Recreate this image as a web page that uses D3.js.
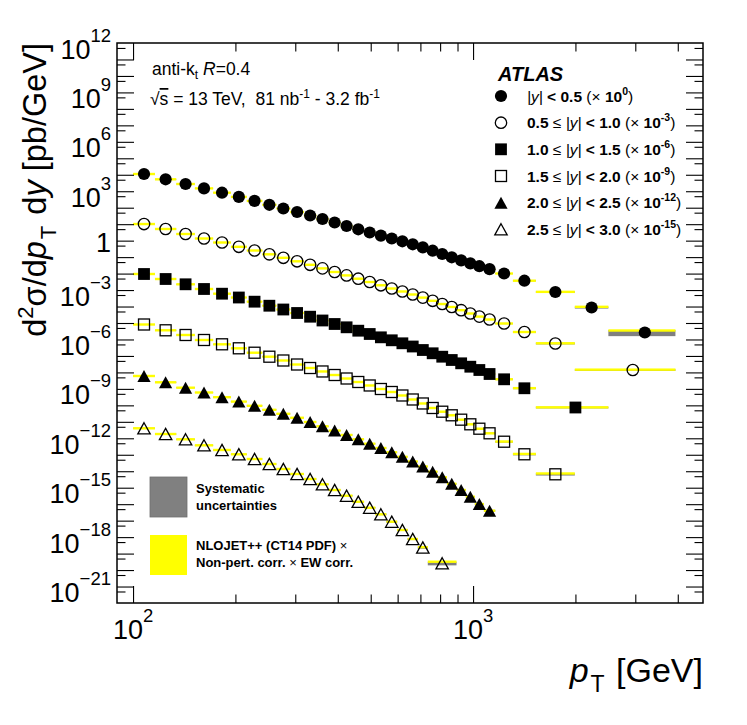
<!DOCTYPE html>
<html><head><meta charset="utf-8">
<script src="https://cdn.jsdelivr.net/npm/d3@7"></script>
<style>
body{margin:0;background:#fff}
svg{font-family:"Liberation Sans",Arial,Helvetica,sans-serif}
</style>
</head><body>
<svg id="c" width="747" height="725"></svg>
<script>
// ---------------- DATA ----------------
const ptEdges = [100,116,134,152,172,194,216,240,264,290,318,346,376,408,442,478,516,556,598,642,688,736,786,838,894,952,1012,1076,1162,1310,1530,1992,2500,3937];

const yLow  = [null, 0.5, 1.0, 1.5, 2.0, 2.5];
const yHigh = [0.5, 1.0, 1.5, 2.0, 2.5, 3.0];
const scaleExp = [0, -3, -6, -9, -12, -15];
const markerTypes = ["fullCircle","openCircle","fullSquare","openSquare","fullTriangle","openTriangle"];

// bin edges used by each rapidity slice (last bins merged at high pT)
const edges_y0 = ptEdges;
const edges_y1 = [...ptEdges.slice(0,32), 3937];
const edges_y2 = [...ptEdges.slice(0,31), 2500];
const edges_y3 = ptEdges.slice(0,32);
const edges_y4 = ptEdges.slice(0,29);
const edges_y5 = [...ptEdges.slice(0,22), 894];

// mean pT of last (wide) bin where it differs visibly from the bin centre
const lastPointPt = [3200, 2950, 2000, null, null, null];

// d2sigma/dpT dy [pb/GeV] (unscaled)
const xsec_y0 = [1.11e4,5.30e3,2.75e3,1.49e3,815,453,259,150,89.5,54.9,33.6,20.6,12.6,7.75,4.89,3.12,2.03,1.35,0.913,0.600,0.389,0.245,0.155,0.0975,0.0632,0.0416,0.0281,0.0185,0.0101,3.7e-3,7.62e-4,8.73e-5,2.65e-6];
const xsec_y1 = [1.02e4,5.10e3,2.53e3,1.35e3,772,423,252,148,90.9,55.7,34.2,20.7,12.5,7.77,4.89,3.09,1.95,1.24,0.818,0.538,0.348,0.223,0.142,0.0937,0.0599,0.0377,0.0245,0.0163,9.32e-3,2.84e-3,5.69e-4,1.40e-5];
const xsec_y2 = [9.44e3,4.69e3,2.24e3,1.16e3,601,353,197,112,66.0,40.5,24.1,14.2,8.70,5.48,3.41,2.15,1.35,0.891,0.586,0.374,0.229,0.145,0.0899,0.0567,0.0357,0.0222,0.0140,8.01e-3,3.82e-3,1.09e-3,7.41e-5];
const xsec_y3 = [8.11e3,3.61e3,1.87e3,929,509,291,157,89.9,52.9,30.2,18.5,11.4,6.96,4.27,2.62,1.61,0.984,0.647,0.397,0.227,0.130,0.0691,0.0412,0.0249,0.0135,7.07e-3,3.82e-3,2.01e-3,6.21e-4,1.07e-4,6.52e-6];
const xsec_y4 = [6.06e3,2.51e3,1.18e3,603,313,169,94.0,53.7,30.7,17.6,9.76,5.35,2.93,1.59,0.869,0.470,0.257,0.141,0.0752,0.0390,0.0194,9.37e-3,4.28e-3,1.73e-3,7.26e-4,2.84e-4,1.02e-4,4.02e-5];
const xsec_y5 = [4.04e3,1.82e3,869,375,195,107,55.3,27.5,13.7,6.80,3.38,1.61,0.726,0.327,0.141,0.0611,0.0243,8.64e-3,2.71e-3,7.69e-4,2.34e-4,2.57e-5];

// relative systematic uncertainty [%]
const sys_y0 = [5,5,4,4,4,4,4,4,4,4,4,4,4,4,4,4,4,4,4,4,4,5,5,5,5,5,6,6,7,8,10,14,40];
const sys_y1 = [5,5,4,4,4,4,4,4,4,4,4,4,4,4,4,4,4,4,4,4,5,5,5,5,5,6,6,7,8,10,12,12];
const sys_y2 = [5,5,4,4,4,4,4,4,4,4,4,4,4,4,4,4,4,4,5,5,5,5,5,6,6,7,7,8,10,12,12];
const sys_y3 = [6,6,5,5,5,5,5,5,5,5,5,5,5,5,5,6,6,6,6,6,7,7,8,8,9,9,10,10,12,14,16];
const sys_y4 = [7,7,6,6,6,6,6,6,6,6,6,6,6,7,7,7,7,8,8,8,9,9,10,10,11,11,12,12];
const sys_y5 = [8,8,7,7,7,7,7,7,7,8,8,8,9,9,10,10,11,12,13,14,16,25];

// NLOJET++ prediction / data
const nlo_y0 = [1,1,1,1,1,1,1,1,1,1,1,1,1,1,1,1,1,1,1,1,1,1,1,1,1,1,1,1,1,1,1.02,1.1,1.32];
const nlo_y1 = [1,1,1,1,1,1,1,1,1,1,1,1,1,1,1,1,1,1,1,1,1,1,1,1,1,1,1,1,1,1,1.03,1.05];
const nlo_y2 = [1,1,1,1,1,1,1,1,1,1,1,1,1,1,1,1,1,1,1,1,1,1,1,1,1,1,1,1,1,1.02,1.02];
const nlo_y3 = [1,1,1,1,1,1,1,1,1,1,1,1,1,1,1,1,1,1,1,1,1,1,1,1,1,1,1,1,1.02,1.05,1.12];
const nlo_y4 = [1,1,1,1,1,1,1,1,1,1,1,1,1,1,1,1,1,1,1,1,1,1,1,1,1,1,1,1];
const nlo_y5 = [1,1,1,1,1,1,1,1,1,1,1,1,1,1,1,1,1,1,1,1,1.05,1.25];

const yTickExps = [12,9,6,3,0,-3,-6,-9,-12,-15,-18,-21];
const xTickExps = [2,3];

// ---------------- CHART ----------------
const svg = d3.select("#c");
const F = {l:117, r:703, t:43, b:603};
const x = d3.scaleLog().domain([89.7, 4745]).range([F.l, F.r]);
const y = d3.scaleLog().domain([1e-22, 1e12]).range([F.b, F.t]);

const edgesAll = [edges_y0,edges_y1,edges_y2,edges_y3,edges_y4,edges_y5];
const xsecAll  = [xsec_y0,xsec_y1,xsec_y2,xsec_y3,xsec_y4,xsec_y5];
const sysAll   = [sys_y0,sys_y1,sys_y2,sys_y3,sys_y4,sys_y5];
const nloAll   = [nlo_y0,nlo_y1,nlo_y2,nlo_y3,nlo_y4,nlo_y5];

const series = xsecAll.map((vals, s) => {
  const ed = edgesAll[s], sc = Math.pow(10, scaleExp[s]);
  return vals.map((v, i) => {
    const lo = ed[i], hi = ed[i+1];
    let pt = Math.sqrt(lo*hi);
    if (i === vals.length-1 && lastPointPt[s]) pt = lastPointPt[s];
    return {s, lo, hi, pt, v: v*sc, sys: sysAll[s][i]/100, nlo: v*sc*nloAll[s][i]};
  });
});
const pts = series.flat();

// systematic bands
svg.append("g").selectAll("rect").data(pts).join("rect")
  .attr("x", d => x(d.lo)).attr("width", d => x(d.hi)-x(d.lo))
  .attr("y", d => y(d.v*(1+d.sys)))
  .attr("height", d => y(d.v*(1-d.sys)) - y(d.v*(1+d.sys)))
  .attr("fill", "#808080");

// theory bands
const bandH = d => Math.max(2.4, y(d.nlo/1.06)-y(d.nlo*1.06));
svg.append("g").selectAll("rect").data(pts).join("rect")
  .attr("x", d => x(d.lo)).attr("width", d => x(d.hi)-x(d.lo))
  .attr("y", d => y(d.nlo) - bandH(d)/2)
  .attr("height", bandH)
  .attr("fill", "#ffff00");

// markers
function drawMarker(g, type, cx, cy) {
  const filled = type.startsWith("full");
  let el;
  if (type.endsWith("Circle")) {
    el = g.append("circle").attr("cx", cx).attr("cy", cy).attr("r", filled ? 6.1 : 5.7);
  } else if (type.endsWith("Square")) {
    const a = filled ? 11.8 : 11;
    el = g.append("rect").attr("x", cx-a/2).attr("y", cy-a/2).attr("width", a).attr("height", a);
  } else {
    const w = filled ? 6.6 : 6.2, h = filled ? 6 : 5.6;
    el = g.append("path").attr("d", `M${cx},${cy-h}L${cx+w},${cy+h}L${cx-w},${cy+h}Z`);
  }
  if (filled) el.attr("fill", "#000");
  else el.attr("fill", "none").attr("stroke", "#000").attr("stroke-width", 1.3);
}
const gm = svg.append("g");
pts.forEach(d => drawMarker(gm, markerTypes[d.s], x(d.pt), y(d.v)));

// axes ticks
const yMajor = d3.range(-21, 12).map(e => Math.pow(10, e));
const yMinor = d3.range(-22, 12).map(e => 5*Math.pow(10, e));
const xMajor = [100, 1000];
const xMinor = [200,300,400,500,600,700,800,900,2000,3000,4000];
function tickAxis(axis, vals, size, tr) {
  const g = svg.append("g").attr("transform", tr)
    .call(axis.tickValues(vals).tickSizeInner(-size).tickSizeOuter(0).tickFormat(""));
  g.select(".domain").remove();
  g.selectAll("line").attr("stroke", "#000").attr("stroke-width", 1.1);
}
tickAxis(d3.axisLeft(y), yMajor, 17, `translate(${F.l},0)`);
tickAxis(d3.axisLeft(y), yMinor, 8.5, `translate(${F.l},0)`);
tickAxis(d3.axisRight(y), yMajor, 17, `translate(${F.r},0)`);
tickAxis(d3.axisRight(y), yMinor, 8.5, `translate(${F.r},0)`);
tickAxis(d3.axisBottom(x), xMajor, 17, `translate(0,${F.b})`);
tickAxis(d3.axisBottom(x), xMinor, 8.5, `translate(0,${F.b})`);
tickAxis(d3.axisTop(x), xMajor, 17, `translate(0,${F.t})`);
tickAxis(d3.axisTop(x), xMinor, 8.5, `translate(0,${F.t})`);

// frame
svg.append("rect").attr("x", F.l).attr("y", F.t).attr("width", F.r-F.l).attr("height", F.b-F.t)
  .attr("fill", "none").attr("stroke", "#000").attr("stroke-width", 1.5);

// rich text helper
function rich(t, parts) {
  let shift = 0;
  parts.forEach(p => {
    const ts = t.append("tspan").text(p.t);
    let target = 0;
    if (p.sup) target = -(p.sup);
    if (p.sub) target = p.sub;
    if (target !== shift) { ts.attr("dy", target - shift); shift = target; }
    if (p.dx) ts.attr("dx", p.dx);
    if (p.w) ts.attr("font-weight", p.w);
    if (p.i) ts.attr("font-style", "italic");
    if (p.fs) ts.attr("font-size", p.fs);
    if (p.deco) ts.attr("text-decoration", p.deco);
  });
  return t;
}

// y tick labels
yTickExps.forEach(e => {
  const ty = y(Math.pow(10, e));
  const t = svg.append("text").attr("x", 111).attr("text-anchor", "end").attr("font-size", 27);
  if (e === 0) { t.attr("y", ty + 11).text("1"); }
  else {
    t.attr("y", ty + 15.5);
    rich(t, [{t:"10"}, {t:String(e).replace("-", "\u2212"), sup:17, fs:18.5}]);
  }
});
// x tick labels
xTickExps.forEach(e => {
  const t = svg.append("text").attr("x", x(Math.pow(10, e))).attr("y", 639)
    .attr("text-anchor", "middle").attr("font-size", 27);
  rich(t, [{t:"10"}, {t:String(e), sup:17, fs:18.5}]);
});

// axis titles
rich(svg.append("text").attr("x", F.r).attr("y", 682).attr("text-anchor", "end").attr("font-size", 34),
  [{t:"p", i:true}, {t:"T", sub:10, fs:23, dx:2}, {t:" [GeV]", dx:2}]);
rich(svg.append("text").attr("transform", `translate(46,${F.t}) rotate(-90)`).attr("text-anchor", "end").attr("font-size", 32.5),
  [{t:"d"}, {t:"2", sup:13, fs:22}, {t:"\u03c3/d"}, {t:"p", i:true}, {t:"T", sub:10, fs:22, dx:2}, {t:" d", dx:2}, {t:"y", i:true}, {t:" [pb/GeV]"}]);

// top-left labels
rich(svg.append("text").attr("x", 152).attr("y", 75).attr("font-size", 17.5),
  [{t:"anti-k"}, {t:"t", sub:4, fs:12}, {t:" "}, {t:"R", i:true}, {t:"=0.4"}]);
rich(svg.append("text").attr("x", 150).attr("y", 105).attr("font-size", 17.5),
  [{t:"\u221a"}, {t:"s", deco:"overline"}, {t:" = 13 TeV,\u00a0\u00a081 nb"}, {t:"-1", sup:7, fs:12}, {t:" - 3.2 fb"}, {t:"-1", sup:7, fs:12}]);

// legend (right)
svg.append("text").attr("x", 498).attr("y", 81).attr("font-size", 20)
  .attr("font-weight", "bold").attr("font-style", "italic").text("ATLAS");
const rowY = [96, 122.7, 149.3, 176, 202.7, 229.3];
markerTypes.forEach((m, k) => {
  drawMarker(svg.append("g"), m, 501, rowY[k]);
  const t = svg.append("text").attr("x", 527).attr("y", rowY[k] + 5.5).attr("font-size", 15.5);
  const parts = [];
  if (yLow[k] !== null) { parts.push({t: yLow[k].toFixed(1) + " ", w:"bold"}); parts.push({t:"\u2264 "}); }
  parts.push({t:"|y|", i:true});
  parts.push({t:" < " + yHigh[k].toFixed(1) + " ", w:"bold"});
  parts.push({t:"(\u00d7 "});
  parts.push({t:"10", w:"bold"});
  parts.push({t:String(scaleExp[k]), w:"bold", sup:7, fs:10.5});
  parts.push({t:")"});
  rich(t, parts);
});

// legend (bottom-left)
svg.append("rect").attr("x", 150).attr("y", 477).attr("width", 37).attr("height", 40)
  .attr("fill", "#808080").attr("stroke", "#6e6e6e").attr("stroke-width", 0.8);
svg.append("rect").attr("x", 150).attr("y", 535).attr("width", 37).attr("height", 40).attr("fill", "#ffff00");
const lg = [["Systematic", 493], ["uncertainties", 510]];
lg.forEach(([s, yy]) => svg.append("text").attr("x", 196).attr("y", yy).attr("font-size", 13)
  .attr("font-weight", "bold").text(s));
rich(svg.append("text").attr("x", 196).attr("y", 550).attr("font-size", 13),
  [{t:"NLOJET++ (CT14 PDF) ", w:"bold"}, {t:"\u00d7"}]);
rich(svg.append("text").attr("x", 196).attr("y", 567).attr("font-size", 13),
  [{t:"Non-pert. corr. ", w:"bold"}, {t:"\u00d7"}, {t:" EW corr.", w:"bold"}]);
</script>
</body></html>
